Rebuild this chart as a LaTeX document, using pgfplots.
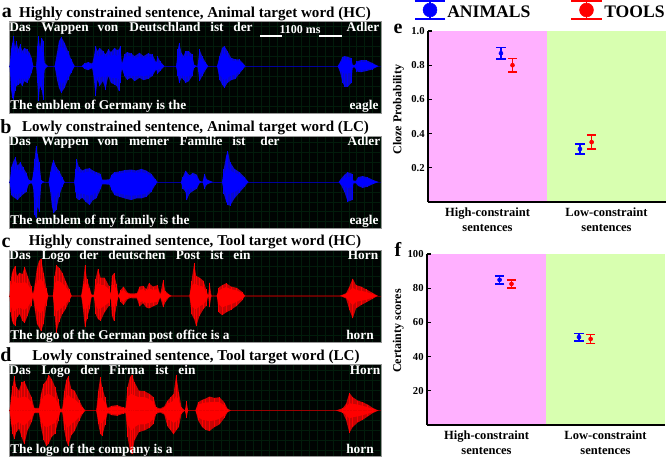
\documentclass[border=0pt]{standalone}
\usepackage{fontspec}
\setmainfont{Liberation Serif}
\usepackage{pgfplots}
\usepackage{pgfplotstable}
\pgfplotsset{compat=1.18}

\definecolor{bgdark}{RGB}{0,4,2}
\definecolor{griddark}{RGB}{2,28,11}
\definecolor{rimgray}{RGB}{150,150,150}
\definecolor{cpink}{RGB}{255,176,255}
\definecolor{cgreen}{RGB}{216,255,176}
\definecolor{bluedk}{RGB}{10,10,205}
\definecolor{redk}{RGB}{200,4,4}

% waveform envelopes: x, outer up, outer down, core up, core down
% (x and amplitude in 1/3 px of the reference)
\pgfplotstableread{
x up dn cu cd
30 0 0 0 0
34 50 -70 30 -40
38 70 -95 45 -60
42 90 -100 55 -55
46 55 -75 40 -50
50 75 -60 45 -45
56 50 -55 35 -40
62 65 -50 45 -35
68 45 -60 35 -40
74 55 -45 40 -35
82 50 -50 35 -40
90 40 -35 30 -25
96 25 -20 15 -15
101 0 0 0 0
110 0 0 0 0
113 60 -50 30 -30
117 90 -105 50 -45
121 55 -60 35 -35
126 85 -70 45 -40
131 75 -100 40 -40
135 10 -10 5 -5
145 0 0 0 0
165 0 0 0 0
172 40 -40 25 -25
178 75 -65 50 -35
185 87 -80 60 -55
195 70 -65 50 -45
205 45 -40 35 -30
215 20 -20 15 -15
225 0 0 0 0
246 0 0 0 0
255 8 -8 5 -5
265 12 -12 8 -8
278 8 -6 5 -4
283 30 -40 15 -25
288 60 -90 35 -40
294 45 -40 30 -30
300 55 -60 30 -35
310 45 -45 35 -30
318 35 -70 25 -35
326 50 -30 35 -25
334 42 -50 30 -35
345 55 -55 35 -35
352 48 -60 30 -35
358 50 -75 35 -40
362 60 -50 35 -30
367 8 -8 4 -4
375 35 -30 25 -25
382 42 -40 30 -30
395 38 -35 30 -28
405 30 -45 22 -30
420 40 -35 30 -28
432 30 -42 22 -30
445 38 -38 30 -28
458 35 -30 25 -22
470 12 -10 8 -8
474 30 -22 12 -10
482 14 -14 8 -8
495 0 0 0 0
530 0 0 0 0
535 50 -30 25 -25
539 70 -50 38 -32
546 40 -35 28 -28
552 30 -40 22 -28
558 45 -50 30 -32
568 45 -45 32 -30
578 35 -30 24 -22
584 4 -4 2 -2
594 0 0 0 0
600 50 -45 25 -25
608 30 -30 20 -20
618 12 -12 8 -8
626 0 0 0 0
653 0 0 0 0
660 30 -40 20 -25
668 55 -55 35 -35
675 60 -65 38 -42
684 45 -50 30 -35
695 25 -42 18 -28
708 20 -38 15 -25
720 20 -22 14 -15
730 10 -10 6 -6
738 0 0 0 0
1015 0 0 0 0
1022 12 -18 8 -10
1030 28 -50 18 -20
1036 30 -62 20 -22
1045 28 -62 20 -22
1056 24 -50 15 -18
1060 4 -4 2 -2
1067 4 -4 2 -2
1072 14 -16 10 -12
1085 18 -18 12 -12
1100 18 -15 12 -10
1118 10 -10 6 -6
1137 0 0 0 0
}\waveA

\pgfplotstableread{
x up dn cu cd
30 0 0 0 0
35 45 -40 30 -30
40 60 -45 38 -35
47 75 -50 40 -35
54 50 -55 35 -38
62 60 -45 38 -32
70 45 -38 32 -28
80 28 -30 20 -22
88 5 -5 3 -3
97 5 -5 3 -3
101 30 -20 15 -12
105 70 -100 40 -50
109 110 -110 50 -55
114 85 -75 40 -45
119 60 -90 30 -40
125 5 -5 2 -2
135 0 0 0 0
147 0 0 0 0
152 30 -30 18 -18
157 55 -75 35 -35
162 67 -95 40 -50
170 45 -85 30 -38
178 35 -45 25 -30
188 15 -15 10 -10
195 0 0 0 0
224 0 0 0 0
228 40 -30 20 -20
231 70 -50 35 -35
238 45 -55 30 -35
248 35 -48 28 -35
258 40 -60 30 -38
270 42 -70 32 -42
280 35 -55 25 -38
290 30 -50 22 -32
303 25 -22 18 -15
308 7 -7 5 -5
330 8 -8 5 -5
336 22 -25 16 -20
345 30 -40 24 -32
360 32 -45 26 -35
375 36 -50 28 -38
395 38 -55 30 -42
410 35 -50 28 -40
425 40 -50 30 -38
440 35 -45 26 -35
455 25 -30 18 -22
468 8 -8 5 -5
474 0 0 0 0
544 0 0 0 0
550 15 -20 10 -12
558 35 -30 20 -20
562 30 -55 18 -25
570 20 -35 15 -20
580 28 -28 20 -20
592 22 -20 16 -15
600 4 -4 2 -2
609 0 0 0 0
615 25 -20 12 -12
622 8 -8 5 -5
640 0 0 0 0
668 0 0 0 0
673 40 -35 22 -22
680 80 -60 40 -35
685 95 -70 45 -38
692 60 -72 35 -35
705 40 -50 28 -30
720 30 -32 22 -22
735 15 -15 10 -10
747 0 0 0 0
1018 0 0 0 0
1025 10 -10 6 -6
1035 22 -30 12 -14
1045 30 -60 16 -18
1058 25 -55 14 -16
1062 4 -4 2 -2
1070 4 -4 2 -2
1076 15 -12 10 -10
1090 18 -18 12 -12
1105 14 -14 10 -10
1122 6 -6 4 -4
1137 0 0 0 0
}\waveB

\pgfplotstableread{
x up dn cu cd
30 0 0 0 0
33 45 -50 28 -30
37 70 -75 40 -40
41 80 -85 45 -45
46 90 -90 42 -45
52 60 -65 38 -38
60 70 -55 40 -35
68 65 -75 38 -40
75 88 -82 42 -42
84 60 -60 35 -35
94 30 -30 20 -18
100 5 -5 3 -3
106 40 -45 22 -25
112 85 -85 42 -45
118 105 -95 48 -48
124 112 -107 50 -52
132 70 -85 40 -42
140 25 -30 15 -15
146 0 0 0 0
160 0 0 0 0
165 60 -60 35 -35
170 92 -112 45 -50
178 85 -80 45 -42
188 70 -55 38 -35
198 45 -40 28 -25
208 22 -18 14 -12
216 0 0 0 0
245 0 0 0 0
250 35 -40 20 -22
256 92 -95 42 -45
262 50 -70 32 -36
270 25 -40 16 -22
276 4 -4 2 -2
283 4 -4 2 -2
288 50 -55 28 -28
295 82 -70 40 -40
303 55 -75 32 -38
315 55 -50 32 -30
328 30 -30 20 -20
333 4 -4 2 -2
337 60 -60 32 -30
343 68 -76 32 -34
351 35 -30 20 -18
357 0 0 0 0
363 18 -18 12 -12
372 28 -28 18 -18
384 10 -10 6 -6
392 7 -7 4 -4
412 8 -8 5 -5
420 28 -32 18 -20
430 30 -22 20 -16
440 20 -35 14 -22
448 38 -38 22 -22
460 28 -32 18 -20
474 32 -26 20 -18
482 5 -5 3 -3
491 48 -35 22 -20
497 15 -20 10 -12
508 5 -5 3 -3
516 0 0 0 0
570 0 0 0 0
576 45 -55 28 -30
584 98 -70 38 -38
590 60 -92 34 -40
600 55 -60 30 -32
612 45 -40 28 -25
620 20 -30 12 -15
626 0 0 0 0
630 40 -35 12 -12
636 0 0 0 0
652 0 0 0 0
658 25 -50 16 -25
668 32 -58 22 -35
680 38 -50 26 -30
695 28 -42 20 -25
712 24 -30 16 -18
728 12 -14 8 -8
737 0 0 0 0
1022 0 0 0 0
1040 8 -8 5 -5
1050 28 -42 15 -18
1060 52 -68 24 -28
1070 32 -38 18 -18
1085 28 -28 15 -15
1100 20 -20 12 -12
1118 10 -10 6 -6
1135 0 0 0 0
}\waveC

\pgfplotstableread{
x up dn cu cd
30 0 0 0 0
34 40 -40 25 -25
39 75 -70 40 -40
44 103 -87 45 -45
50 70 -65 40 -38
58 60 -55 38 -35
66 85 -80 40 -42
74 88 -102 42 -45
84 65 -60 38 -35
96 40 -35 24 -22
104 8 -8 5 -5
118 8 -8 5 -5
124 50 -50 28 -28
132 80 -88 42 -45
140 90 -107 48 -50
147 108 -100 50 -48
156 95 -80 45 -42
166 72 -70 38 -38
176 35 -32 20 -18
182 5 -5 3 -3
188 6 -6 3 -3
194 60 -60 32 -32
200 92 -92 42 -48
206 103 -107 48 -52
215 65 -75 38 -40
225 60 -62 35 -34
238 32 -32 22 -20
248 12 -12 8 -8
257 0 0 0 0
290 0 0 0 0
296 60 -40 30 -25
302 100 -70 42 -38
308 70 -77 36 -38
316 40 -45 24 -25
324 8 -8 5 -5
336 14 -14 10 -10
352 16 -16 12 -12
370 10 -10 7 -7
378 8 -8 4 -4
384 70 -80 40 -42
391 100 -120 48 -55
397 108 -132 50 -60
405 85 -90 45 -50
418 60 -65 40 -42
435 58 -60 40 -42
450 50 -52 34 -36
462 40 -40 25 -25
470 10 -10 6 -6
482 6 -6 3 -3
494 12 -12 8 -8
504 30 -48 22 -28
514 40 -60 24 -30
522 50 -72 30 -38
530 108 -60 45 -32
538 55 -50 30 -28
546 10 -10 5 -5
556 0 0 0 0
561 28 -22 10 -10
566 0 0 0 0
588 0 0 0 0
596 25 -30 18 -20
608 32 -50 22 -28
618 36 -58 24 -30
630 42 -62 25 -32
645 38 -50 26 -30
660 40 -42 25 -25
675 24 -22 15 -14
684 6 -6 3 -3
694 0 0 0 0
1010 0 0 0 0
1030 7 -7 4 -4
1040 20 -28 12 -14
1050 53 -67 22 -24
1060 40 -50 20 -20
1075 30 -36 18 -18
1090 25 -28 14 -14
1105 18 -18 10 -10
1120 8 -8 5 -5
1137 0 0 0 0
}\waveD

\pgfplotsset{
  wavepanel/.style={
    scale only axis, width=279pt, height=69pt, anchor=south west,
    xmin=28, xmax=1145,
    axis background/.style={fill=bgdark},
    axis line style={rimgray, line width=0.6pt},
    xtick={40,64,...,1144}, ytick distance=30,
    xticklabels={}, yticklabels={}, tick style={draw=none},
    grid=major, grid style={griddark, line width=0.3pt},
  },
  statspanel/.style={
    scale only axis, width=178.5pt, anchor=south west,
    xmin=0, xmax=2, ymin=0,
    axis lines=left, axis line style={-, line width=1pt},
    axis on top, clip=false,
    y tick style={black, line width=0.8pt},
    tick align=inside, major tick length=3pt,
    xtick={0.5,1.5}, x tick style={draw=none},
    xticklabels={{High-constraint\\sentences}, {Low-constraint\\sentences}},
    xticklabel style={align=center, font=\bfseries\fontsize{9.4}{11.2}\selectfont, yshift=-1pt},
    yticklabel style={font=\bfseries\fontsize{8}{9}\selectfont, xshift=1pt},
    ylabel style={font=\bfseries\fontsize{9}{10}\selectfont},
    /pgf/number format/assume math mode=true,
  },
  errpt/.style={
    only marks, #1, mark=*, mark size=1.5pt, mark options={#1, fill=#1},
    error bars/.cd, y dir=both, y explicit,
    error bar style={#1, line width=1.25pt},
    error mark options={#1, rotate=90, mark size=3.5pt, line width=1.25pt},
  },
  keypt/.style={
    only marks, #1, mark=*, mark size=5.2pt, mark options={#1, fill=#1},
    error bars/.cd, y dir=both, y explicit,
    error bar style={#1, line width=1.2pt},
    error mark options={#1, rotate=90, mark size=11.6pt, line width=1.2pt},
  },
  fullpage/.style={
    scale only axis, width=499.5pt, height=343.5pt, at={(0,0)}, anchor=south west,
    xmin=0, xmax=666, ymin=0, ymax=458, y dir=reverse, hide axis, clip=false,
  },
}

\newcommand{\wave}[3]{% table, outer colour, core colour
  \addplot[fill=#2, draw=none] table[x=x, y=up] {#1} \closedcycle;
  \addplot[fill=#2, draw=none] table[x=x, y=dn] {#1} \closedcycle;
  \addplot[fill=#3, draw=none] table[x=x, y=cu] {#1} \closedcycle;
  \addplot[fill=#3, draw=none] table[x=x, y=cd] {#1} \closedcycle;
  \addplot[ycomb, #3, line width=0.55pt] table[x=x, y=up] {#1};
  \addplot[ycomb, #3, line width=0.55pt] table[x=x, y=dn] {#1};
}

\begin{document}
\begin{tikzpicture}
\path[use as bounding box] (0,0) rectangle (499.5pt,343.5pt);

% waveforms a-d; faint baseline under the fills
\begin{axis}[wavepanel, at={(6.75pt,258.75pt)}, ymin=-140, ymax=135]
  \addplot[blue!40!black, line width=0.3pt] coordinates {(28,0) (1145,0)};
  \wave{\waveA}{bluedk}{blue}
\end{axis}
\begin{axis}[wavepanel, at={(6.75pt,172.5pt)}, ymin=-140, ymax=140]
  \addplot[blue!40!black, line width=0.3pt] coordinates {(28,0) (1145,0)};
  \wave{\waveB}{bluedk}{blue}
\end{axis}
\begin{axis}[wavepanel, at={(6.75pt,87pt)}, ymin=-139, ymax=138]
  \addplot[red!40!black, line width=0.3pt] coordinates {(28,0) (1145,0)};
  \wave{\waveC}{redk}{red}
\end{axis}
\begin{axis}[wavepanel, at={(6.75pt,1.5pt)}, ymin=-137, ymax=140]
  \addplot[red!40!black, line width=0.3pt] coordinates {(28,0) (1145,0)};
  \wave{\waveD}{redk}{red}
\end{axis}

% e: cloze probability
\begin{axis}[statspanel, at={(321pt,192pt)}, height=128.25pt, ymax=1,
    ytick={0.2,0.4,0.6,0.8,1.0},
    yticklabel style={/pgf/number format/.cd, fixed, fixed zerofill, precision=1},
    ylabel={Cloze Probability}, ylabel style={at={(axis description cs:-0.081,0.54)}}]
  \addplot[fill=cpink, draw=none] coordinates {(0,0) (1,0) (1,1) (0,1)} --cycle;
  \addplot[fill=cgreen, draw=none] coordinates {(1,0) (2,0) (2,1) (1,1)} --cycle;
  \addplot[errpt=blue] coordinates {(0.613,0.87) +- (0,0.033) (1.277,0.31) +- (0,0.028)};
  \addplot[errpt=red] coordinates {(0.71,0.80) +- (0,0.039) (1.375,0.35) +- (0,0.041)};
\end{axis}

% f: certainty scores
\begin{axis}[statspanel, at={(320.25pt,24.75pt)}, height=128.25pt, ymax=100,
    ytick={20,40,60,80,100},
    ylabel={Certainty scores}, ylabel style={at={(axis description cs:-0.078,0.55)}}]
  \addplot[fill=cpink, draw=none] coordinates {(0,0) (1,0) (1,100) (0,100)} --cycle;
  \addplot[fill=cgreen, draw=none] coordinates {(1,0) (2,0) (2,100) (1,100)} --cycle;
  \addplot[errpt=blue] coordinates {(0.61,84.9) +- (0,2.4) (1.277,51.4) +- (0,2.2)};
  \addplot[errpt=red] coordinates {(0.71,82.5) +- (0,2.4) (1.375,50.3) +- (0,2.7)};
\end{axis}

% key symbols, in reference pixels
\begin{axis}[fullpage]
  \addplot[keypt=blue] coordinates {(430,10) +- (0,9)};
  \addplot[keypt=red] coordinates {(586.5,10) +- (0,9)};
\end{axis}

% full-page layer in reference pixels for the panel texts
\begin{axis}[fullpage,
    nodes={inner sep=0pt, anchor=base, font=\bfseries\fontsize{10}{12}\selectfont}]
  \node[anchor=base west, font=\bfseries\fontsize{13.2}{15}\selectfont] at (axis cs:447,17) {ANIMALS};
  \node[anchor=base west, font=\bfseries\fontsize{13.2}{15}\selectfont] at (axis cs:604,17) {TOOLS};

  % panel letters
  \node[font=\bfseries\fontsize{15}{17}\selectfont] at (axis cs:7,17) {a};
  \node[font=\bfseries\fontsize{15}{17}\selectfont] at (axis cs:6,133) {b};
  \node[font=\bfseries\fontsize{15}{17}\selectfont] at (axis cs:6,247) {c};
  \node[font=\bfseries\fontsize{15}{17}\selectfont] at (axis cs:6,361) {d};
  \node[font=\bfseries\fontsize{15}{17}\selectfont] at (axis cs:398,33) {e};
  \node[font=\bfseries\fontsize{15}{17}\selectfont] at (axis cs:398,256) {f};

  % titles
  \node[font=\bfseries\fontsize{11.3}{14}\selectfont] at (axis cs:195,17) {Highly constrained sentence, Animal target word (HC)};
  \node[font=\bfseries\fontsize{11.3}{14}\selectfont] at (axis cs:195.5,131) {Lowly constrained sentence, Animal target word (LC)};
  \node[font=\bfseries\fontsize{11.3}{14}\selectfont] at (axis cs:195,245) {Highly constrained sentence, Tool target word (HC)};
  \node[font=\bfseries\fontsize{11.3}{14}\selectfont] at (axis cs:196,360) {Lowly constrained sentence, Tool target word (LC)};

  % German words, white
  \node[white] at (axis cs:20,31) {Das};
  \node[white] at (axis cs:65,31) {Wappen};
  \node[white] at (axis cs:108,31) {von};
  \node[white] at (axis cs:165,31) {Deutschland};
  \node[white] at (axis cs:217,31) {ist};
  \node[white] at (axis cs:243,31) {der};
  \node[white] at (axis cs:363,31) {Adler};

  \node[white] at (axis cs:20,145) {Das};
  \node[white] at (axis cs:65,145) {Wappen};
  \node[white] at (axis cs:108,145) {von};
  \node[white] at (axis cs:149,145) {meiner};
  \node[white] at (axis cs:201,145) {Familie};
  \node[white] at (axis cs:239,145) {ist};
  \node[white] at (axis cs:270,145) {der};
  \node[white] at (axis cs:364,145) {Adler};

  \node[white] at (axis cs:20,259) {Das};
  \node[white] at (axis cs:56,259) {Logo};
  \node[white] at (axis cs:89,259) {der};
  \node[white] at (axis cs:137,259) {deutschen};
  \node[white] at (axis cs:188,259) {Post};
  \node[white] at (axis cs:217,259) {ist};
  \node[white] at (axis cs:242,259) {ein};
  \node[white] at (axis cs:363,259) {Horn};

  \node[white] at (axis cs:20,374) {Das};
  \node[white] at (axis cs:56,374) {Logo};
  \node[white] at (axis cs:90,374) {der};
  \node[white] at (axis cs:127,374) {Firma};
  \node[white] at (axis cs:162,374) {ist};
  \node[white] at (axis cs:187,374) {ein};
  \node[white] at (axis cs:365,374) {Horn};

  % English lines
  \node[white, anchor=base west] at (axis cs:10,109) {The emblem of Germany is the};
  \node[white] at (axis cs:364,109) {eagle};
  \node[white, anchor=base west] at (axis cs:10,224) {The emblem of my family is the};
  \node[white] at (axis cs:364,224) {eagle};
  \node[white, anchor=base west] at (axis cs:10,339) {The logo of the German post office is a};
  \node[white] at (axis cs:360,339) {horn};
  \node[white, anchor=base west] at (axis cs:10,453) {The logo of the company is a};
  \node[white] at (axis cs:360,453) {horn};

  % scale mark
  \node[white, font=\bfseries\fontsize{9}{10}\selectfont] at (axis cs:300,33) {1100 ms};
  \draw[white, line width=0.8pt] (axis cs:260,36) -- (axis cs:282,36);
  \draw[white, line width=0.8pt] (axis cs:319,36) -- (axis cs:342,36);
\end{axis}
\end{tikzpicture}
\end{document}
